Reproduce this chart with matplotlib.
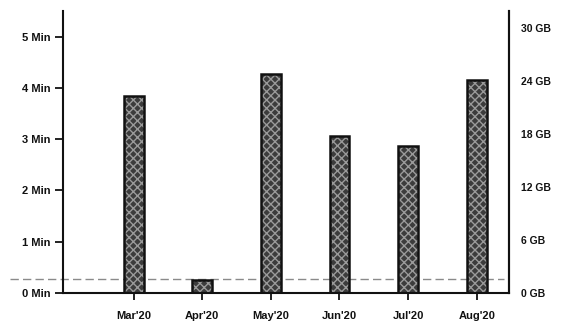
import matplotlib.pyplot as plt
import numpy as np

plt.rcParams['font.family'] = ['Liberation Sans', 'DejaVu Sans']

months = ["Mar'20", "Apr'20", "May'20", "Jun'20", "Jul'20", "Aug'20"]
minutes = [3.85, 0.25, 4.27, 3.07, 2.86, 4.16]
baseline = 0.28
min_ticks = [0, 1, 2, 3, 4, 5]
gb_ticks = [0, 6, 12, 18, 24, 30]

fig = plt.figure(figsize=(5.68, 3.29), dpi=100)
ax = fig.add_axes([0.111, 0.109, 0.785, 0.858])
x = np.arange(len(months))

# bars: mottled fill first, then a black outline on top
ax.bar(x, minutes, width=0.29, color='#3c3c3c', edgecolor='#9a9a9a',
       hatch='xxxx', linewidth=0, zorder=2)
ax.bar(x, minutes, width=0.29, fill=False, edgecolor='#111111',
       linewidth=1.8, zorder=3)

ax.axhline(baseline, xmin=-0.12, xmax=0.99, color='#8a8a8a', ls=(0, (6, 3)),
           lw=1.0, clip_on=False, zorder=1)

ax.set_xlim(-1.03, 5.47)
ax.set_ylim(0, 5.5)
ax.set_xticks(x)
ax.set_xticklabels(months)
ax.set_yticks(min_ticks)
ax.set_yticklabels([f'{v} Min' for v in min_ticks])

for s in ['left', 'right', 'bottom']:
    ax.spines[s].set_linewidth(1.5)
    ax.spines[s].set_color('#111111')
ax.spines['top'].set_visible(False)

ax.tick_params(axis='y', length=6, width=1.3, pad=3, labelsize=8,
               colors='#111111')
ax.tick_params(axis='x', length=5, width=1.3, pad=8, labelsize=8,
               colors='#111111')
for lab in ax.get_xticklabels() + ax.get_yticklabels():
    lab.set_fontweight('bold')

ax2 = ax.twinx()
ax2.set_ylim(0, 32)
ax2.set_yticks(gb_ticks)
ax2.set_yticklabels([f'{v} GB' for v in gb_ticks])
ax2.spines['right'].set_linewidth(1.5)
ax2.spines['right'].set_color('#111111')
ax2.spines['top'].set_visible(False)
ax2.spines['left'].set_visible(False)
ax2.spines['bottom'].set_visible(False)
ax2.tick_params(axis='y', length=0, pad=9, labelsize=7.5, colors='#111111')
for lab in ax2.get_yticklabels():
    lab.set_fontweight('bold')

fig.savefig('out.png', dpi=100)
